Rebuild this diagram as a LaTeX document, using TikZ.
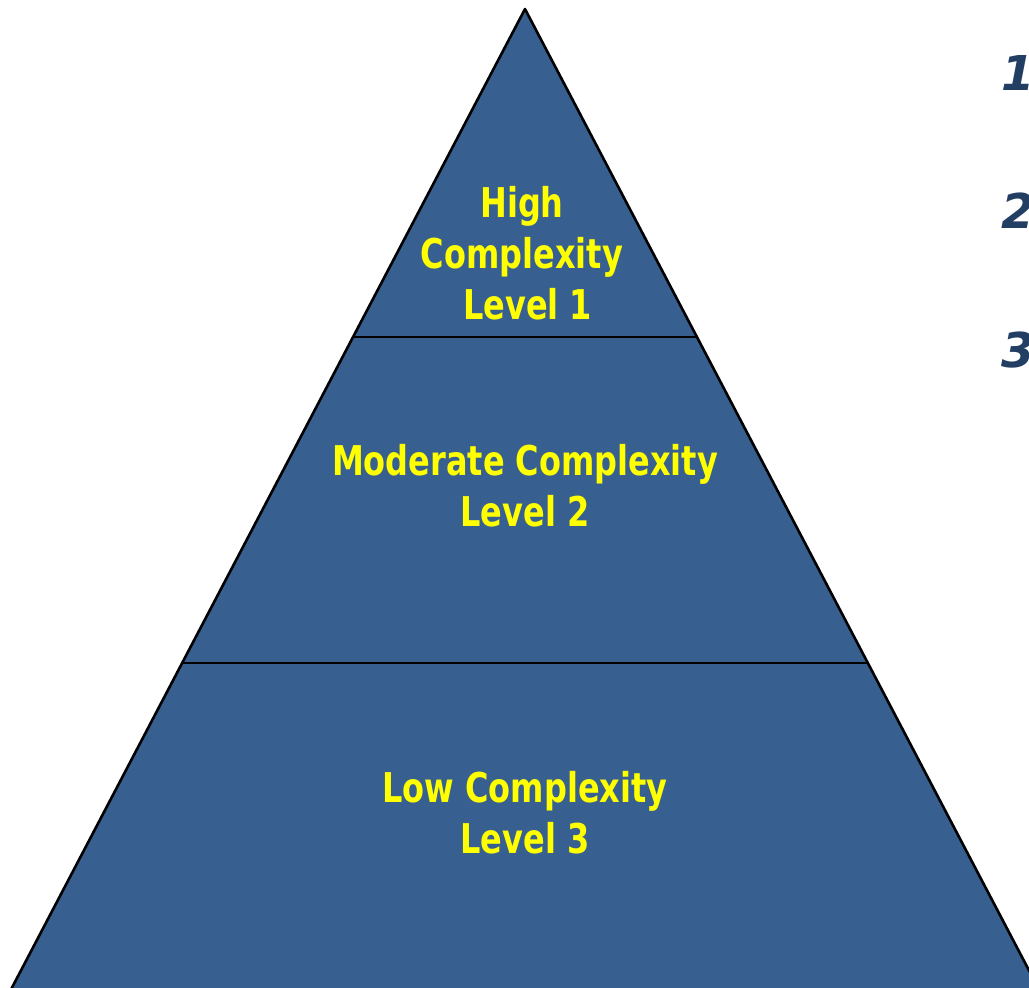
\documentclass[tikz,border=0pt]{standalone}
\usepackage{fontspec}
\setmainfont{DejaVu Sans}
\newfontfamily\lvlfont[FakeStretch=0.78]{DejaVu Sans Bold}
\newfontfamily\numfont{DejaVu Sans Bold Oblique}
\definecolor{pyrblue}{RGB}{55,96,145}
\definecolor{lvlyellow}{RGB}{255,255,0}
\definecolor{numblue}{RGB}{35,62,99}
\tikzset{
  tier/.style={fill=pyrblue, draw=none},
  edge/.style={draw=black, line width=2.6pt, line join=round},
  divider/.style={draw=black, line width=1.8pt},
  lvltext/.style={text=lvlyellow, align=center, inner sep=0pt,
    font=\lvlfont\fontsize{41}{51}\selectfont},
  numtext/.style={text=numblue, anchor=west, inner sep=0pt,
    font=\numfont\fontsize{48}{50}\selectfont}
}
\begin{document}
\begin{tikzpicture}[x=1pt,y=-1pt]
\useasboundingbox (0,0) rectangle (1029,988);
\clip (0,0) rectangle (1029,988);
\coordinate (apex) at (525,9);
\coordinate (bl) at (-5,1020);
\coordinate (br) at (1055,1020);
\fill[tier] (apex) -- (bl) -- (br) -- cycle;
\draw[edge] (bl) -- (apex) -- (br);
\coordinate (d1l) at (353,337);
\coordinate (d1r) at (697,337);
\coordinate (d2l) at (182,663);
\coordinate (d2r) at (868,663);
\draw[divider] (d1l) -- (d1r);
\draw[divider] (d2l) -- (d2r);
\node[lvltext] (l1) at (522,253) {High\\Complexity\\\ Level 1};
\node[lvltext] (l2) at (525,486) {Moderate Complexity\\Level 2};
\node[lvltext] (l3) at (525,813) {Low Complexity\\Level 3};
\node[numtext] (n1) at (1001,73) {1.};
\node[numtext] (n2) at (1001,211) {2.};
\node[numtext] (n3) at (1001,350) {3.};
\end{tikzpicture}
\end{document}
